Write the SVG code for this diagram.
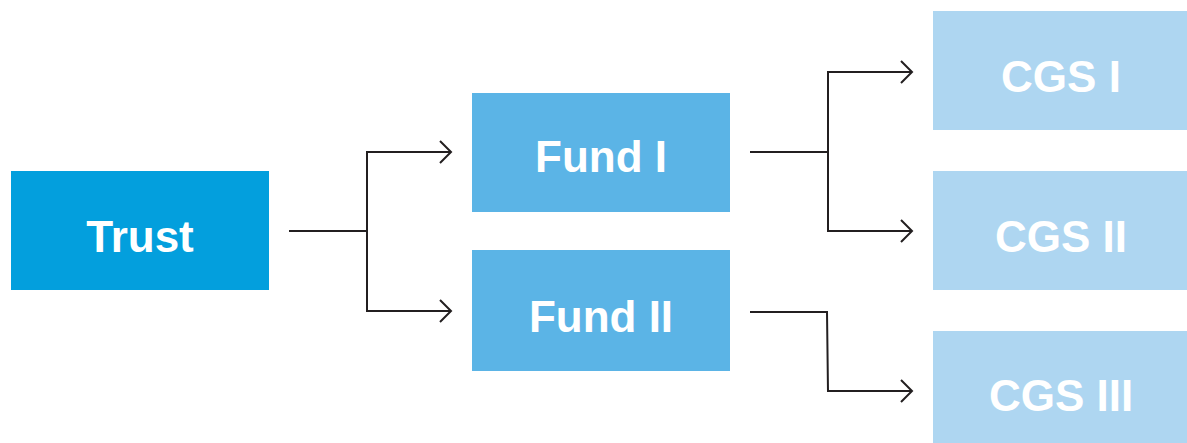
<svg xmlns="http://www.w3.org/2000/svg" width="1187" height="443" viewBox="0 0 1187 443">
<defs>
<marker id="arr" markerWidth="14" markerHeight="24" refX="12" refY="12" orient="auto" markerUnits="userSpaceOnUse">
<path d="M1,1 L12,12 L1,23" fill="none" stroke="#231f20" stroke-width="2"/>
</marker>
<style>
.t{font-family:"Liberation Sans",Arial,sans-serif;font-weight:bold;font-size:44px;fill:#ffffff;text-anchor:middle}
.c{fill:none;stroke:#231f20;stroke-width:2}
</style>
</defs>
<rect width="1187" height="443" fill="#ffffff"/>
<g id="connectors">
<polyline class="c" points="289,231 367,231"/>
<polyline class="c" points="367,231 367,152 451,152" marker-end="url(#arr)"/>
<polyline class="c" points="367,231 367,311 451,311" marker-end="url(#arr)"/>
<polyline class="c" points="750,152 828,152"/>
<polyline class="c" points="828,152 828,72 912,72" marker-end="url(#arr)"/>
<polyline class="c" points="828,152 828,231 912,231" marker-end="url(#arr)"/>
<polyline class="c" points="750,312 827,312 828,391 912,391" marker-end="url(#arr)"/>
</g>
<g id="trust"><rect x="11" y="171" width="258" height="119" fill="#039fdd"/><text class="t" x="140" y="252">Trust</text></g>
<g id="fund1"><rect x="472" y="93" width="258" height="119" fill="#5bb4e6"/><text class="t" x="601" y="172">Fund I</text></g>
<g id="fund2"><rect x="472" y="250" width="258" height="121" fill="#5bb4e6"/><text class="t" x="601" y="332">Fund II</text></g>
<g id="cgs1"><rect x="933" y="11" width="254" height="119" fill="#aed6f1"/><text class="t" x="1061" y="92">CGS I</text></g>
<g id="cgs2"><rect x="933" y="171" width="254" height="119" fill="#aed6f1"/><text class="t" x="1061" y="252">CGS II</text></g>
<g id="cgs3"><rect x="933" y="331" width="254" height="112" fill="#aed6f1"/><text class="t" x="1061" y="411">CGS III</text></g>
</svg>
